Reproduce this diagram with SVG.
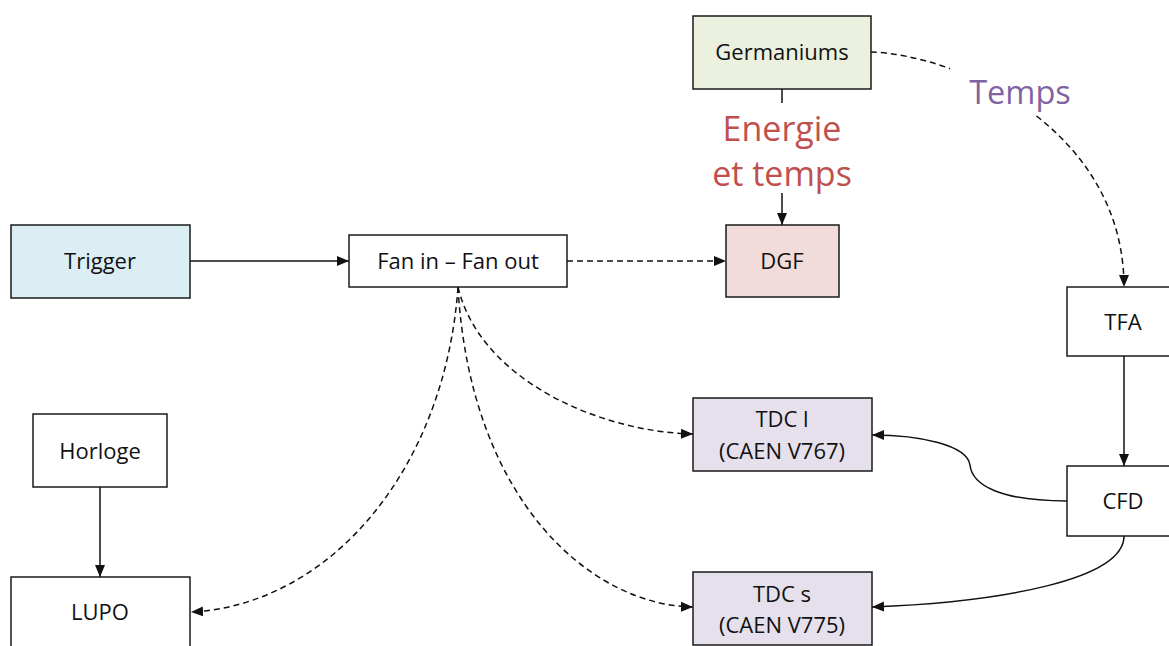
<svg xmlns="http://www.w3.org/2000/svg" width="1169" height="646" viewBox="0 0 1169 646">
<style>
.box{stroke:#1a1a1a;stroke-width:1.5}
.t{font-family:"Open Sans","Noto Sans",sans-serif;font-size:22px;fill:#111;text-anchor:middle}
.lbl{font-family:"Open Sans","Noto Sans",sans-serif;text-anchor:middle}
.e{fill:none;stroke:#111;stroke-width:1.5}
.d{stroke-dasharray:6 4}
</style>
<defs>
<marker id="ah" markerUnits="userSpaceOnUse" markerWidth="13" markerHeight="11" refX="12" refY="5" orient="auto">
<path d="M0,0 L12,5 L0,10 z" fill="#111"/>
</marker>
</defs>
<rect width="1169" height="646" fill="#fff"/>
<g id="connectors">
<path class="e" d="M190,261 H349" marker-end="url(#ah)"/>
<path class="e d" d="M567,261 H726" marker-end="url(#ah)"/>
<path class="e" d="M782,89 V225" marker-end="url(#ah)"/>
<path class="e d" d="M871,52 C960,55 1124,130 1124,287" marker-end="url(#ah)"/>
<path class="e" d="M1124,356 V466" marker-end="url(#ah)"/>
<path class="e" d="M1067,501 C1000,501 972,485 970,465 C967,445 920,435 872,435" marker-end="url(#ah)"/>
<path class="e" d="M1124,536 C1124,580 1000,602 872,607" marker-end="url(#ah)"/>
<path class="e d" d="M458,287 C480,380 600,432 693,434" marker-end="url(#ah)"/>
<path class="e d" d="M458,287 C470,500 590,605 693,607" marker-end="url(#ah)"/>
<path class="e d" d="M458,287 C445,470 330,605 191,612" marker-end="url(#ah)"/>
<path class="e" d="M100,487 V577" marker-end="url(#ah)"/>
<rect x="704" y="103" width="156" height="90" fill="#fff"/>
<text class="lbl" x="782" y="141" font-size="34" fill="#c0504d">Energie</text>
<text class="lbl" x="782" y="186" font-size="34" fill="#c0504d">et temps</text>
<rect x="950" y="68" width="135" height="47" fill="#fff"/>
<text class="lbl" x="1020" y="104" font-size="32.5" fill="#8064a2">Temps</text>
</g>
<g id="germaniums"><rect class="box" x="693" y="16" width="178" height="73" fill="#ebf1de"/><text class="t" x="782" y="60">Germaniums</text></g>
<g id="dgf"><rect class="box" x="726" y="225" width="113" height="72" fill="#f2dcdb"/><text class="t" x="782" y="269">DGF</text></g>
<g id="trigger"><rect class="box" x="11" y="225" width="179" height="73" fill="#dbeef4"/><text class="t" x="100" y="269">Trigger</text></g>
<g id="fan"><rect class="box" x="349" y="235" width="218" height="52" fill="#fff"/><text class="t" x="458" y="269">Fan in – Fan out</text></g>
<g id="tfa"><rect class="box" x="1067" y="287" width="120" height="69" fill="#fff"/><text class="t" x="1123" y="330">TFA</text></g>
<g id="cfd"><rect class="box" x="1067" y="466" width="120" height="70" fill="#fff"/><text class="t" x="1123" y="509">CFD</text></g>
<g id="tdcl"><rect class="box" x="693" y="398" width="179" height="73" fill="#e5e0ec"/><text class="t" x="782" y="427">TDC l</text><text class="t" x="782" y="459">(CAEN V767)</text></g>
<g id="tdcs"><rect class="box" x="693" y="572" width="179" height="73" fill="#e5e0ec"/><text class="t" x="782" y="602">TDC s</text><text class="t" x="782" y="633">(CAEN V775)</text></g>
<g id="horloge"><rect class="box" x="33" y="414" width="134" height="73" fill="#fff"/><text class="t" x="100" y="459">Horloge</text></g>
<g id="lupo"><rect class="box" x="11" y="577" width="179" height="80" fill="#fff"/><text class="t" x="100" y="620">LUPO</text></g>
</svg>
